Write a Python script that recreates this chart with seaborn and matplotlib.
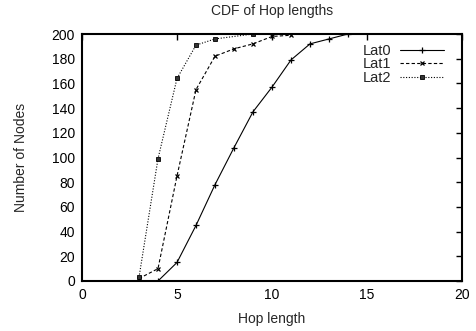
import matplotlib
matplotlib.use("Agg")
import matplotlib.pyplot as plt
import seaborn as sns
import pandas as pd

lat0_x = [4, 5, 6, 7, 8, 9, 10, 11, 12, 13, 14]
lat0_y = [0, 15, 45, 78, 108, 137, 157, 179, 192, 196, 200]
lat1_x = [3, 4, 5, 6, 7, 8, 9, 10, 11]
lat1_y = [2, 10, 85, 155, 182, 188, 192, 198, 199]
lat2_x = [3, 4, 5, 6, 7, 9]
lat2_y = [3, 99, 164, 191, 196, 200]

sns.set_style("white")
plt.rcParams['font.family'] = ['Liberation Sans', 'DejaVu Sans']

fig = plt.figure(figsize=(4.77, 3.31), dpi=100)
ax = fig.add_axes([82/477, 50/331, 380/477, 247/331])

series = [
    ("Lat0", lat0_x, lat0_y, "-", "+", 4.5, 0.9, "black"),
    ("Lat1", lat1_x, lat1_y, (0, (3, 2)), "x", 3.5, 0.9, "black"),
    ("Lat2", lat2_x, lat2_y, (0, (1, 1.5)), "s", 2.8, 0.6, "#333333"),
]
for name, xs, ys, ls, mk, ms, mew, mfc in series:
    df = pd.DataFrame({"x": xs, "y": ys})
    sns.lineplot(data=df, x="x", y="y", ax=ax, color="black", linestyle=ls,
                 linewidth=0.8, marker=mk, markersize=ms, markeredgewidth=mew,
                 markerfacecolor=mfc, markeredgecolor="black", label=name)

ax.set_xlim(0, 20)
ax.set_ylim(0, 200)
ax.set_xticks(range(0, 21, 5))
ax.set_yticks(range(0, 201, 20))
ax.tick_params(direction="in", length=4, width=1, top=True, right=True,
               labelsize=10, colors="black", pad=5)
for s in ax.spines.values():
    s.set_linewidth(1.5)
    s.set_color("black")
ax.set_xlabel("Hop length", fontsize=10, labelpad=7)
ax.set_ylabel("Number of Nodes", fontsize=10, labelpad=17)
ax.set_title("CDF of Hop lengths", fontsize=10, pad=14)

ax.legend(loc="upper right", frameon=False, markerfirst=False, fontsize=10.5,
          handlelength=3.0, handletextpad=0.6, labelspacing=-0.05,
          borderaxespad=0.3, bbox_to_anchor=(0.98, 1.0))

fig.savefig("out.png", dpi=100)
